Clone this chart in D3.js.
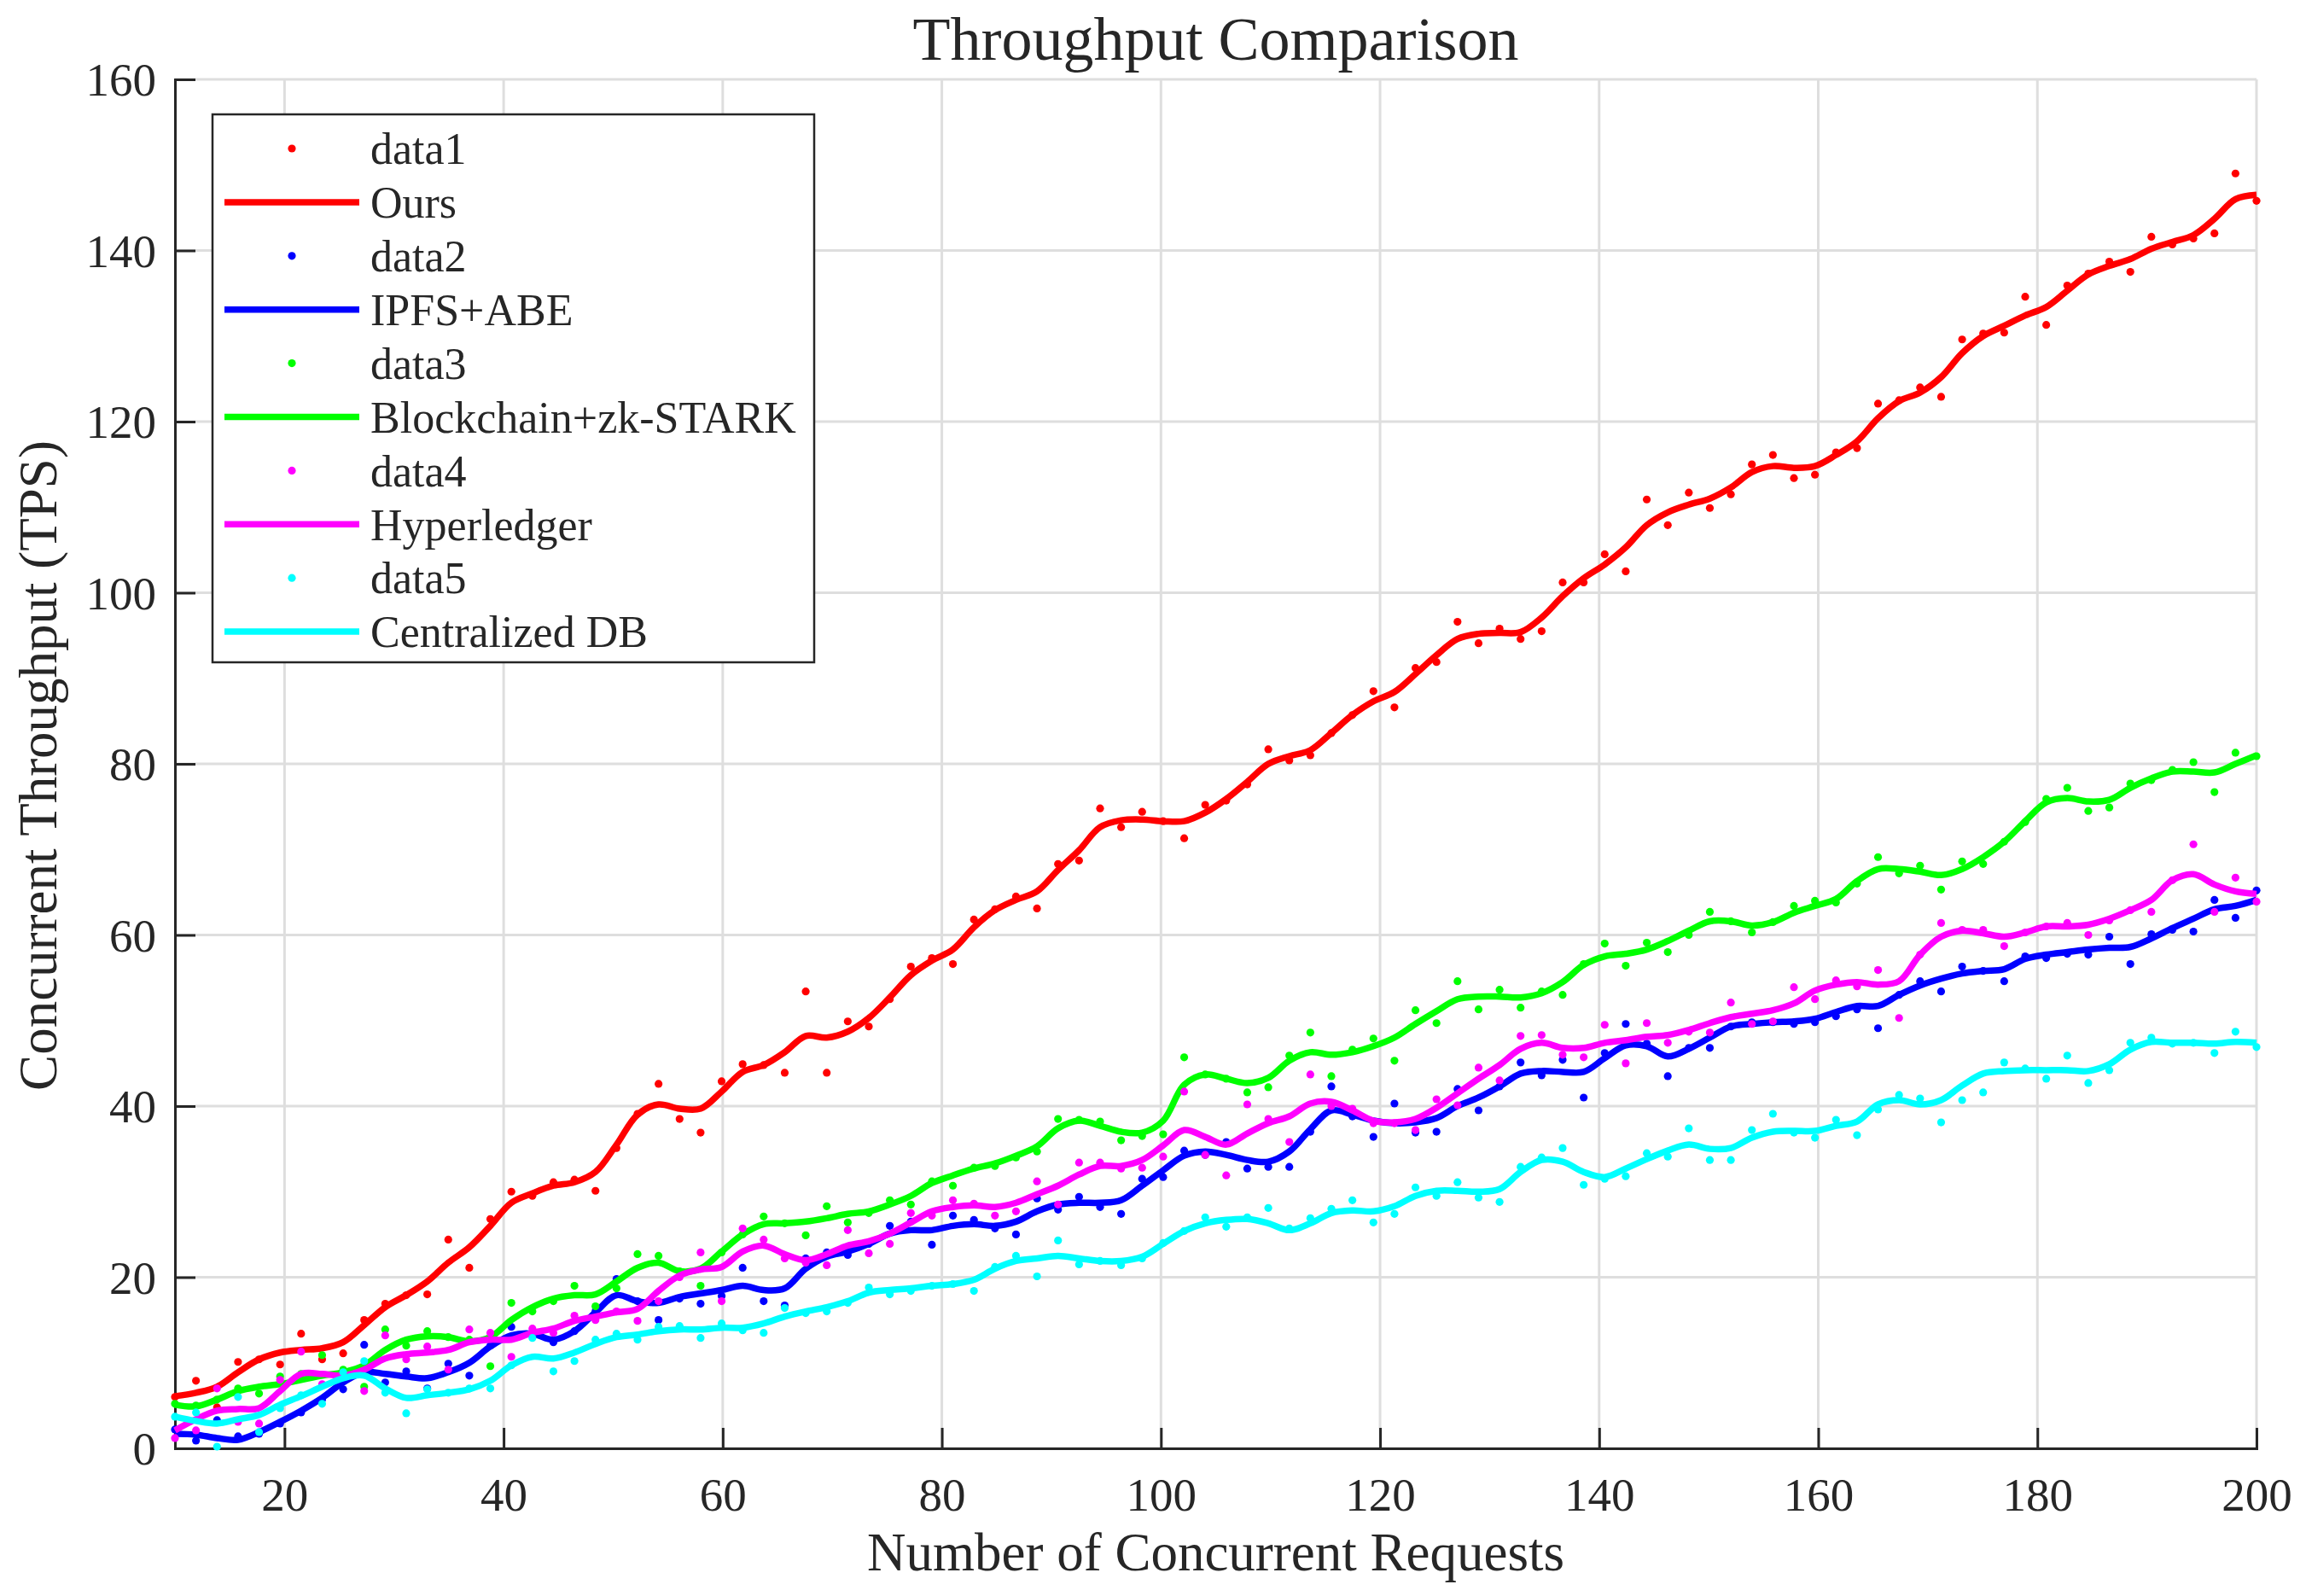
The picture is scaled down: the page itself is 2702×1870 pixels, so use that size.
<!DOCTYPE html>
<html>
<head>
<meta charset="utf-8">
<script src="https://cdn.jsdelivr.net/npm/d3@7"></script>
<style>
  html, body { margin: 0; padding: 0; background: #ffffff; }
  svg { display: block; }
  text { font-family: "Liberation Serif", "Times New Roman", serif; fill: #262626; }
</style>
</head>
<body>
<svg id="chart" width="2702" height="1870"></svg>
<script>
// ---------------- data ----------------
const titleText = "Throughput Comparison";
const xLabel = "Number of Concurrent Requests";
const yLabel = "Concurrent Throughput (TPS)";
const xTicks = [20, 40, 60, 80, 100, 120, 140, 160, 180, 200];
const yTicks = [0, 20, 40, 60, 80, 100, 120, 140, 160];
const xDomain = [10, 200];
const yDomain = [0, 160];
const nPoints = 100; // samples evenly spaced from 10 to 200

const seriesNames = ["Ours", "IPFS+ABE", "Blockchain+zk-STARK", "Hyperledger", "Centralized DB"];
const dotNames = ["data1", "data2", "data3", "data4", "data5"];
const seriesColors = ["#ff0000", "#0000ff", "#00ff00", "#ff00ff", "#00ffff"];

// scattered samples (dots)
const oursDots = [
  6.0, 7.9, 4.8, 10.1, 10.4, 9.8, 13.4, 10.4, 11.1, 15.0,
  16.9, 17.9, 18.0, 24.4, 21.1, 26.8, 30.0, 29.5, 31.1, 31.4,
  30.1, 35.1, 39.1, 42.6, 38.5, 36.9, 42.9, 44.9, 44.8, 43.9,
  53.4, 43.9, 49.9, 49.3, 52.5, 56.3, 57.3, 56.6, 61.8, 63.0,
  64.5, 63.1, 68.3, 68.7, 74.8, 72.6, 74.4, 73.3, 71.3, 75.2,
  75.7, 77.6, 81.7, 80.4, 81.0, 83.6, 85.7, 88.5, 86.6, 91.2,
  91.9, 96.6, 94.1, 95.8, 94.6, 95.5, 101.2, 101.2, 104.5, 102.5,
  110.9, 107.9, 111.7, 109.9, 111.5, 115.0, 116.1, 113.4, 113.8, 116.4,
  116.9, 122.1, 122.5, 124.0, 122.9, 129.6, 130.3, 130.4, 134.6, 131.3,
  135.9, 137.3, 138.7, 137.5, 141.6, 140.7, 141.4, 142.0, 149.0, 145.8
];
const ipfsDots = [
  2.2, 0.9, 3.3, 1.4, 1.7, 2.9, 4.2, 5.7, 6.9, 12.1,
  7.7, 9.0, 7.0, 9.9, 8.5, 12.0, 14.2, 13.4, 12.4, 13.7,
  16.0, 19.8, 17.2, 15.0, 17.5, 16.9, 17.8, 21.1, 17.2, 16.7,
  22.2, 22.9, 22.6, 23.9, 26.0, 26.5, 23.8, 27.2, 26.7, 25.7,
  25.0, 29.2, 27.9, 29.4, 28.2, 27.4, 31.5, 31.7, 34.8, 34.3,
  35.8, 32.7, 32.9, 32.9, 37.0, 42.3, 38.8, 36.4, 40.3, 36.9,
  37.0, 42.0, 39.5, 42.3, 45.1, 43.6, 45.4, 41.0, 46.2, 49.6,
  47.3, 43.5, 46.8, 46.8, 49.3, 49.8, 49.8, 49.6, 49.8, 50.5,
  51.3, 49.1, 53.0, 54.6, 53.4, 56.3, 55.8, 54.6, 57.5, 57.3,
  57.8, 57.7, 59.8, 56.6, 60.1, 60.6, 60.4, 64.1, 62.0, 65.2
];
const zkDots = [
  5.2, 5.0, 5.7, 7.0, 6.4, 8.4, 8.7, 10.9, 9.2, 7.2,
  13.9, 12.0, 13.7, 13.0, 12.7, 9.6, 17.0, 16.0, 17.2, 19.0,
  16.6, 18.7, 22.7, 22.5, 20.7, 19.0, 22.9, 25.0, 27.1, 26.3,
  24.9, 28.3, 26.4, 27.5, 29.0, 28.5, 31.2, 30.7, 32.8, 33.0,
  34.0, 34.7, 38.5, 38.4, 38.2, 36.0, 36.5, 36.7, 45.7, 43.7,
  43.2, 41.6, 42.2, 45.9, 48.6, 43.5, 46.6, 47.9, 45.3, 51.2,
  49.7, 54.6, 51.3, 53.6, 51.5, 53.4, 53.0, 56.6, 59.0, 56.4,
  59.1, 58.0, 60.0, 62.7, 61.6, 60.3, 61.5, 63.4, 64.0, 63.8,
  66.0, 69.1, 67.2, 68.1, 65.3, 68.6, 68.3, 70.9, 73.2, 75.9,
  77.2, 74.5, 74.9, 77.7, 78.1, 79.3, 80.2, 76.7, 81.3, 80.9
];
const hyperDots = [
  1.2, 2.1, 7.0, 3.1, 2.9, 8.0, 11.3, 7.5, 8.5, 6.7,
  13.2, 10.4, 11.9, 9.2, 13.9, 13.5, 10.7, 14.0, 13.5, 15.5,
  15.0, 16.0, 14.9, 17.2, 20.0, 22.9, 17.2, 25.7, 24.4, 22.2,
  21.7, 21.4, 25.5, 22.8, 23.9, 27.5, 27.2, 29.0, 28.6, 27.2,
  27.7, 31.2, 28.5, 33.4, 33.4, 32.7, 32.8, 34.1, 41.7, 34.3,
  31.9, 40.2, 38.5, 35.8, 43.7, 40.0, 39.7, 38.0, 38.0, 37.2,
  40.8, 40.1, 44.5, 43.0, 48.2, 48.3, 46.0, 45.7, 49.5, 45.0,
  49.7, 47.4, 48.7, 48.6, 52.1, 49.6, 49.9, 53.9, 52.5, 54.7,
  54.0, 55.9, 50.3, 57.7, 61.4, 60.6, 60.6, 58.7, 60.3, 61.0,
  61.4, 60.0, 61.7, 62.9, 62.7, 66.4, 70.6, 62.7, 66.7, 63.9
];
const centralDots = [
  3.7, 4.2, 0.2, 6.0, 1.9, 4.7, 6.2, 5.2, 8.9, 10.2,
  6.5, 4.1, 6.9, 6.5, 7.0, 7.0, 9.7, 12.9, 9.0, 10.2,
  12.7, 13.4, 12.7, 14.2, 14.3, 12.9, 14.6, 13.8, 13.5, 16.4,
  15.8, 16.0, 17.0, 18.8, 18.0, 18.4, 19.0, 19.2, 18.4, 21.2,
  22.5, 20.1, 24.3, 21.5, 21.9, 21.4, 22.2, 24.0, 25.4, 27.0,
  25.9, 27.0, 28.1, 25.7, 26.9, 28.0, 29.0, 26.4, 27.4, 30.5,
  29.5, 31.1, 29.3, 28.8, 32.9, 34.0, 35.1, 30.8, 31.5, 31.8,
  34.5, 34.1, 37.4, 33.7, 33.7, 37.2, 39.1, 36.9, 36.3, 38.4,
  36.6, 39.6, 41.3, 40.9, 38.1, 40.7, 41.6, 45.1, 44.4, 43.2,
  45.9, 42.7, 44.2, 47.4, 48.0, 47.3, 47.4, 46.2, 48.7, 46.9
];

// smoothed curves (lines) at the same x samples
const oursLine = [
  6.1, 6.5, 7.2, 8.9, 10.4, 11.2, 11.5, 11.7, 12.4, 14.4,
  16.5, 17.9, 19.5, 21.7, 23.5, 26.0, 28.7, 29.8, 30.7, 31.1,
  32.3, 35.5, 39.0, 40.2, 39.7, 39.7, 41.7, 44.0, 44.8, 46.3,
  48.2, 48.0, 48.7, 50.3, 52.7, 55.3, 57.0, 58.3, 60.9, 62.9,
  64.1, 65.1, 67.6, 69.9, 72.6, 73.4, 73.5, 73.3, 73.3, 74.3,
  75.9, 77.9, 80.0, 80.9, 81.6, 83.6, 85.7, 87.3, 88.4, 90.5,
  92.7, 94.6, 95.2, 95.3, 95.4, 97.1, 99.6, 101.7, 103.3, 105.3,
  107.9, 109.4, 110.3, 111.0, 112.3, 114.1, 114.8, 114.6, 114.8, 116.1,
  117.7, 120.4, 122.4, 123.4, 125.2, 128.0, 130.0, 131.2, 132.4, 133.4,
  135.3, 137.2, 138.2, 139.0, 140.2, 141.0, 141.8, 143.7, 146.0, 146.5
];
const ipfsLine = [
  1.7, 1.6, 1.2, 1.0, 1.9, 3.1, 4.4, 5.9, 7.7, 8.9,
  8.7, 8.4, 8.2, 8.9, 10.0, 11.9, 13.2, 13.4, 12.7, 13.7,
  15.9, 17.9, 17.2, 17.0, 17.7, 18.1, 18.5, 19.0, 18.5, 18.7,
  21.0, 22.4, 23.0, 23.9, 25.1, 25.5, 25.5, 26.0, 26.2, 26.0,
  26.5, 27.7, 28.5, 28.7, 28.7, 29.0, 30.7, 32.5, 34.2, 34.7,
  34.3, 33.7, 33.5, 34.7, 37.3, 39.5, 39.0, 38.3, 38.0, 38.1,
  38.6, 40.0, 41.0, 42.3, 43.8, 44.1, 44.0, 44.0, 45.6, 47.1,
  47.0, 45.8, 46.7, 48.0, 49.3, 49.6, 49.8, 49.9, 50.2, 51.0,
  51.7, 51.7, 53.0, 54.1, 54.9, 55.5, 55.8, 56.0, 57.2, 57.7,
  58.0, 58.3, 58.5, 58.6, 59.6, 60.8, 61.9, 63.0, 63.4, 64.1
];
const zkLine = [
  5.1, 4.9, 5.7, 6.7, 7.2, 7.5, 8.0, 8.5, 8.9, 9.7,
  11.5, 12.7, 13.1, 13.0, 12.5, 13.0, 15.0, 16.5, 17.5, 17.9,
  18.0, 19.5, 21.1, 21.7, 20.7, 21.0, 23.0, 25.0, 26.2, 26.3,
  26.5, 26.9, 27.4, 27.7, 28.5, 29.5, 31.0, 31.9, 32.7, 33.3,
  34.2, 35.3, 37.4, 38.3, 37.7, 37.0, 36.9, 38.3, 42.5, 43.7,
  43.2, 42.7, 43.3, 45.3, 46.3, 46.0, 46.3, 47.0, 48.0, 49.6,
  51.1, 52.5, 52.8, 52.8, 52.7, 53.2, 54.5, 56.5, 57.5, 57.8,
  58.3, 59.3, 60.5, 61.6, 61.6, 61.1, 61.5, 62.6, 63.4, 64.2,
  66.3, 67.7, 67.7, 67.4, 67.0, 67.7, 69.1, 70.9, 73.3, 75.5,
  76.0, 75.6, 75.8, 77.2, 78.3, 79.1, 79.1, 79.0, 80.0, 81.0
];
const hyperLine = [
  2.1, 3.4, 4.4, 4.6, 4.7, 6.7, 8.7, 8.7, 8.5, 9.2,
  10.5, 11.0, 11.2, 11.5, 12.4, 12.7, 12.7, 13.5, 14.0, 14.9,
  15.4, 15.9, 16.3, 18.4, 20.2, 20.9, 21.2, 23.0, 23.7, 22.7,
  22.0, 22.7, 23.7, 24.2, 25.1, 26.4, 27.7, 28.2, 28.4, 28.2,
  28.7, 29.7, 30.7, 32.0, 33.0, 33.0, 33.7, 35.4, 37.2, 36.4,
  35.5, 36.8, 38.0, 38.8, 40.3, 40.5, 39.5, 38.3, 38.1, 38.5,
  39.8, 41.5, 43.2, 44.8, 46.7, 47.4, 46.8, 46.8, 47.4, 47.7,
  48.1, 48.3, 48.9, 49.7, 50.4, 50.8, 51.2, 52.0, 53.5, 54.2,
  54.5, 54.2, 54.6, 57.7, 59.8, 60.5, 60.2, 59.8, 60.3, 61.0,
  61.0, 61.2, 61.9, 62.9, 64.1, 66.4, 67.1, 65.9, 65.1, 64.8
];
const centralLine = [
  3.7, 3.2, 2.9, 3.4, 3.9, 5.1, 6.1, 7.2, 8.2, 8.5,
  7.0, 5.9, 6.2, 6.5, 6.9, 7.9, 9.7, 10.7, 10.5, 11.2,
  12.2, 13.0, 13.3, 13.7, 13.9, 13.9, 14.1, 14.1, 14.6, 15.4,
  16.0, 16.5, 17.2, 18.2, 18.5, 18.7, 19.0, 19.2, 19.7, 21.0,
  21.9, 22.2, 22.5, 22.2, 21.9, 21.9, 22.4, 23.9, 25.4, 26.3,
  26.7, 26.8, 26.3, 25.5, 26.3, 27.5, 27.8, 27.7, 28.3, 29.5,
  30.1, 30.1, 30.0, 30.3, 32.3, 33.7, 33.5, 32.3, 31.7, 32.7,
  33.8, 34.8, 35.5, 35.0, 35.1, 36.3, 37.0, 37.1, 37.1, 37.7,
  38.2, 40.2, 40.7, 40.2, 40.7, 42.4, 43.8, 44.1, 44.2, 44.2,
  44.2, 44.1, 44.9, 46.6, 47.5, 47.4, 47.4, 47.3, 47.5, 47.4
];

const allDots = [oursDots, ipfsDots, zkDots, hyperDots, centralDots];
const allLines = [oursLine, ipfsLine, zkLine, hyperLine, centralLine];

// ---------------- layout ----------------
const W = 2702, H = 1870;
const plot = { left: 205, right: 2644, top: 93, bottom: 1697 };

const svg = d3.select("#chart");
svg.append("rect").attr("width", W).attr("height", H).attr("fill", "#ffffff");

const x = d3.scaleLinear().domain(xDomain).range([plot.left, plot.right]);
const y = d3.scaleLinear().domain(yDomain).range([plot.bottom, plot.top]);

const xs = d3.range(nPoints).map(i => xDomain[0] + i * (xDomain[1] - xDomain[0]) / (nPoints - 1));

// grid
const grid = svg.append("g");
grid.selectAll("line.gx").data(xTicks).join("line")
  .attr("x1", d => x(d)).attr("x2", d => x(d))
  .attr("y1", plot.top).attr("y2", plot.bottom)
  .attr("stroke", "#dedede").attr("stroke-width", 3);
grid.selectAll("line.gy").data(yTicks).join("line")
  .attr("x1", plot.left).attr("x2", plot.right)
  .attr("y1", d => y(d)).attr("y2", d => y(d))
  .attr("stroke", "#dedede").attr("stroke-width", 3);

// axes
const xAxis = d3.axisBottom(x).tickValues(xTicks).tickSize(-24).tickPadding(48).tickFormat(d3.format("d"));
const yAxis = d3.axisLeft(y).tickValues(yTicks).tickSize(-24).tickPadding(22).tickFormat(d3.format("d"));

const gx = svg.append("g").attr("transform", `translate(0,${plot.bottom})`).call(xAxis);
const gy = svg.append("g").attr("transform", `translate(${plot.left},0)`).call(yAxis);
[gx, gy].forEach(g => {
  g.select(".domain").attr("stroke", "#262626").attr("stroke-width", 3);
  g.selectAll(".tick line").attr("stroke", "#262626").attr("stroke-width", 3);
  g.selectAll(".tick text")
    .attr("fill", "#262626")
    .style("font-family", '"Liberation Serif", "Times New Roman", serif')
    .style("font-size", "55px");
});
gy.selectAll(".tick text").attr("dy", "0.34em");
gx.selectAll(".tick text").attr("dy", "0.45em");

// series
svg.append("clipPath").attr("id", "plotclip").append("rect")
  .attr("x", plot.left - 10).attr("y", plot.top - 10)
  .attr("width", plot.right - plot.left + 20).attr("height", plot.bottom - plot.top + 20);
const marks = svg.append("g").attr("clip-path", "url(#plotclip)");

const line = d3.line().x(d => x(d[0])).y(d => y(d[1])).curve(d3.curveCatmullRom.alpha(0.5));

allDots.forEach((vals, si) => {
  const pts = xs.map((xv, i) => [xv, vals[i]]);
  marks.append("g").selectAll("circle").data(pts).join("circle")
    .attr("cx", d => x(d[0])).attr("cy", d => y(d[1])).attr("r", 4.6)
    .attr("fill", seriesColors[si]);
  const lv = allLines[si];
  marks.append("path").datum(xs.map((xv, i) => [xv, lv[i]]))
    .attr("d", line).attr("fill", "none")
    .attr("stroke", seriesColors[si]).attr("stroke-width", 7.5)
    .attr("stroke-linejoin", "round").attr("stroke-linecap", "butt");
});

// title & labels
svg.append("text").attr("x", (plot.left + plot.right) / 2).attr("y", 70)
  .attr("text-anchor", "middle").style("font-size", "72px").attr("fill", "#000")
  .text(titleText);
svg.append("text").attr("x", (plot.left + plot.right) / 2).attr("y", 1840)
  .attr("text-anchor", "middle").style("font-size", "63px")
  .text(xLabel);
svg.append("text").attr("transform", `translate(66,${(plot.top + plot.bottom) / 2 + 2}) rotate(-90)`)
  .attr("text-anchor", "middle").style("font-size", "63px")
  .text(yLabel);

// legend
const legend = { x: 249, y: 134, w: 705, h: 642 };
const lg = svg.append("g");
lg.append("rect").attr("x", legend.x).attr("y", legend.y).attr("width", legend.w).attr("height", legend.h)
  .attr("fill", "#ffffff").attr("stroke", "#262626").attr("stroke-width", 2.5);
const legendItems = [];
seriesNames.forEach((name, si) => {
  legendItems.push({ label: dotNames[si], color: seriesColors[si], type: "dot" });
  legendItems.push({ label: name, color: seriesColors[si], type: "line" });
});
const rowY0 = 174, rowStep = 62.9;
legendItems.forEach((it, i) => {
  const cy = rowY0 + i * rowStep;
  if (it.type === "dot") {
    lg.append("circle").attr("cx", 342).attr("cy", cy).attr("r", 4.6).attr("fill", it.color);
  } else {
    lg.append("line").attr("x1", 263).attr("x2", 421).attr("y1", cy).attr("y2", cy)
      .attr("stroke", it.color).attr("stroke-width", 7.5);
  }
  lg.append("text").attr("x", 434).attr("y", cy).attr("dy", "0.35em")
    .style("font-size", "52px").text(it.label);
});
</script>
</body>
</html>
